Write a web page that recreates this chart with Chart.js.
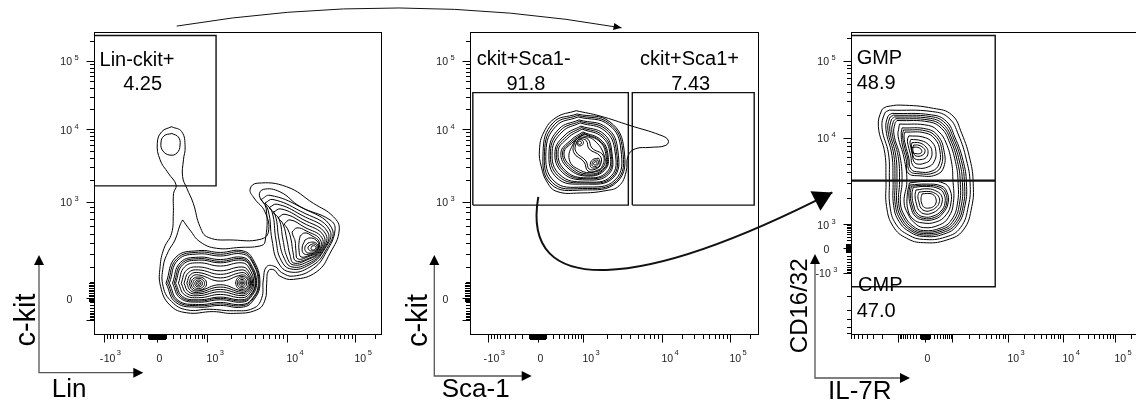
<!DOCTYPE html>
<html lang="en">
<head>
<meta charset="utf-8">
<title>Myeloid progenitor gating</title>
<script src="https://cdn.jsdelivr.net/npm/chart.js@4.4.1/dist/chart.umd.min.js"></script>
<style>
  html, body { margin: 0; padding: 0; background: #fff; }
  body { position: relative; width: 1136px; height: 406px; overflow: hidden; }
  canvas { position: absolute; left: 0; top: 0; }
</style>
</head>
<body>
<canvas id="lin" width="1150" height="406"></canvas>
<canvas id="sca" width="1150" height="406"></canvas>
<canvas id="cd" width="1150" height="406"></canvas>
<script>
// Every position below is a logicle display channel (0-1024 on both axes).
// Contours are stored as flat [x, y, x, y, ...] rings.

// ---------- Lin vs c-kit ----------
const linTickValsX = [-1000, 0, 1000, 10000, 100000];
const linTickChX = [36, 224, 402, 686, 928];
const linTickTextX = ['-10^3', '0', '10^3', '10^4', '10^5'];
const linTickValsY = [-1000, 0, 1000, 10000, 100000];
const linTickChY = [51, 125, 450, 696, 926];
const linTickTextY = ['', '0', '10^3', '10^4', '10^5'];
const linGate = [0, 504, 434, 504, 434, 1012, 0, 1012];
const linGateText = [['Lin-ckit+', 153, 910], ['4.25', 173, 828]];

const linOuter = [276,704, 312,687, 324,636, 318,592, 315,535, 330,496, 353,445, 377,366, 406,330, 495,321,
  590,323, 620,348, 608,416, 569,463, 555,493, 580,513, 685,501, 780,445, 851,400, 872,355, 839,276, 792,214,
  709,188, 661,199, 640,220, 620,217, 614,175, 608,118, 579,85, 495,73, 424,79, 330,75, 270,101, 237,163,
  235,231, 249,293, 276,344, 282,411, 283,479, 292,507, 264,547, 235,592, 225,648, 241,687];
const linBlob = [277,681, 300,669, 306,642, 295,615, 270,608, 245,622, 238,649, 249,673];
const linSecond = [315,389, 341,355, 377,315, 436,293, 519,296, 590,301, 608,315, 612,428, 588,470, 602,492,
  661,484, 733,434, 839,389, 857,355, 827,282, 780,225, 709,199, 667,211, 644,231, 614,231, 602,186, 596,124,
  566,90, 495,82, 412,87, 330,85, 276,113, 246,163, 246,231, 264,282, 288,321, 306,372];
const linLower = [
  [256,175, 291,263, 372,285, 449,279, 526,285, 564,258, 590,175, 564,114, 526,94, 449,100, 372,94, 291,110],
  [262,175, 295,258, 372,280, 449,273, 526,280, 562,253, 587,175, 562,118, 526,99, 449,105, 372,99, 295,114],
  [268,175, 299,254, 372,274, 449,267, 526,274, 561,249, 584,175, 561,121, 526,103, 449,110, 372,103, 299,117],
  [279,175, 307,245, 372,263, 449,255, 526,263, 557,241, 578,175, 557,127, 526,111, 449,119, 372,111, 307,124],
  [285,175, 311,241, 372,258, 449,249, 526,258, 555,237, 575,175, 555,130, 526,115, 449,124, 372,115, 311,127],
  [290,175, 315,237, 372,253, 449,244, 526,253, 554,234, 573,175, 554,133, 526,119, 449,128, 372,119, 315,130],
  [300,175, 322,230, 372,244, 449,233, 526,244, 551,227, 568,175, 551,138, 526,126, 449,137, 372,126, 322,136],
  [310,175, 329,219, 372,230, 449,217, 526,230, 549,216, 564,175, 549,144, 526,133, 449,146, 372,133, 329,141],
  [320,175, 336,211, 372,220, 449,205, 526,220, 546,209, 560,175, 546,148, 526,139, 449,154, 372,139, 336,146],
  [330,175, 343,204, 372,211, 449,193, 526,211, 545,202, 557,175, 545,152, 526,144, 449,162, 372,144, 343,150],
  [338,175, 348,197, 372,203, 449,182, 526,203, 543,196, 554,175, 543,156, 526,149, 449,170, 372,149, 348,154]
];
const linPeakA = [
  [344,174, 352,190, 372,196, 392,190, 400,174, 392,158, 372,152, 352,158],
  [351,174, 357,186, 372,191, 387,186, 393,174, 387,162, 372,157, 357,162],
  [358,174, 362,182, 372,186, 382,182, 386,174, 382,166, 372,162, 362,166],
  [364,174, 366,179, 372,181, 378,179, 380,174, 378,169, 372,167, 366,169],
  [368,174, 372,177, 376,174, 372,171]
];
const linPeakB = [
  [503,176, 510,192, 526,198, 542,192, 549,176, 542,160, 526,154, 510,160],
  [509,176, 514,188, 526,193, 538,188, 543,176, 538,164, 526,159, 514,164],
  [515,176, 518,184, 526,188, 534,184, 537,176, 534,168, 526,164, 518,168],
  [520,176, 522,181, 526,183, 530,181, 532,176, 530,171, 526,169, 522,171],
  [523,176, 526,179, 529,176, 526,173]
];
const linRight = [
  [594,458, 626,472, 733,433, 845,362, 821,281, 768,230, 697,213, 654,247, 633,321, 619,422],
  [608,446, 636,458, 733,419, 838,355, 814,281, 765,237, 701,223, 665,253, 647,321, 633,416],
  [622,430, 651,442, 736,406, 831,348, 811,281, 765,243, 704,230, 676,260, 658,321, 644,406],
  [636,414, 665,426, 740,392, 824,341, 807,281, 765,250, 708,237, 686,264, 672,321, 658,392],
  [654,396, 679,408, 743,379, 817,335, 804,281, 765,257, 711,243, 697,270, 686,321, 672,375],
  [676,375, 697,389, 747,365, 811,328, 800,281, 765,260, 718,250, 708,277, 701,321, 690,355],
  [704,348, 722,362, 754,352, 805,321, 797,281, 768,267, 725,257, 718,284, 715,318, 708,335],
  [733,335, 750,345, 775,335, 801,314, 793,281, 768,270, 736,264, 729,287, 729,314],
  [750,321, 768,328, 789,321, 799,304, 789,281, 768,274, 747,274, 740,294],
  [761,311, 779,314, 793,308, 797,294, 786,281, 768,277, 754,281, 750,297],
  [768,304, 782,308, 793,301, 789,287, 775,284, 765,287, 761,297],
  [775,301, 786,301, 789,294, 782,287, 772,291]
];

// ---------- Sca-1 vs c-kit ----------
const scaTickValsX = [-1000, 0, 1000, 10000, 100000];
const scaTickChX = [64, 241, 400, 680, 921];
const scaTickTextX = ['-10^3', '0', '10^3', '10^4', '10^5'];
const scaTickValsY = [-1000, 0, 1000, 10000, 100000];
const scaTickChY = [51, 125, 450, 696, 926];
const scaTickTextY = ['', '0', '10^3', '10^4', '10^5'];
const scaGateNeg = [10, 439, 561, 439, 561, 819, 10, 819];
const scaGatePos = [575, 439, 1007, 439, 1007, 819, 575, 819];
const scaGateText = [['ckit+Sca1-', 190, 913], ['91.8', 198, 828], ['ckit+Sca1+', 778, 913], ['7.43', 782, 828]];

const scaOuter = [376,758, 461,740, 567,708, 673,676, 702,659, 694,641, 638,634, 585,629, 560,605, 553,551,
  528,504, 482,488, 390,480, 308,485, 273,517, 253,568, 246,625, 262,686, 305,735];
const scaBody = [
  [379,747, 496,720, 546,625, 521,517, 397,490, 287,510, 259,619, 294,717],
  [381,742, 494,715, 541,625, 518,520, 398,495, 292,515, 264,619, 300,712],
  [383,737, 492,710, 535,625, 514,524, 400,500, 298,520, 269,619, 305,706],
  [386,727, 485,700, 524,622, 507,531, 404,510, 308,531, 280,619, 315,696],
  [388,722, 482,695, 519,620, 504,534, 406,514, 314,536, 285,619, 320,691],
  [390,717, 478,690, 514,619, 500,537, 408,517, 319,541, 291,619, 326,686],
  [393,706, 475,679, 503,615, 492,544, 411,524, 329,548, 301,619, 337,676],
  [395,701, 471,674, 500,613, 489,548, 413,528, 335,551, 306,619, 342,671],
  [397,696, 468,669, 496,612, 485,551, 415,531, 340,554, 312,619, 347,666],
  [400,686, 464,659, 489,608, 478,558, 418,537, 351,561, 322,615, 358,659],
  [402,682, 462,655, 486,606, 476,561, 420,540, 356,564, 328,615, 361,655],
  [404,679, 461,652, 482,605, 475,564, 422,544, 361,568, 333,615, 365,652],
  [396,675, 440,658, 476,606, 472,568, 436,550, 392,556, 352,592, 368,650],
  [388,670, 418,662, 432,632, 471,608, 470,573, 450,556, 418,554, 404,585, 368,616, 372,652],
  [390,665, 412,657, 422,629, 461,605, 463,577, 446,561, 422,561, 411,588, 375,620, 377,650]
];
const scaPeaks = [
  [386,662, 398,658, 402,650, 396,641, 384,640, 379,648, 381,657],
  [386,656, 393,654, 395,648, 388,644, 382,648],
  [455,598, 460,588, 458,572, 446,565, 430,566, 426,576, 434,592],
  [452,592, 455,584, 452,574, 443,569, 434,571, 433,580, 439,589],
  [448,586, 450,580, 446,575, 440,575, 438,580, 443,585]
];

// ---------- IL-7R vs CD16/32 ----------
const cdTickValsX = [-100, 0, 100, 1000, 10000, 100000];
const cdTickChX = [167, 262, 358, 556, 751, 935];
const cdTickTextX = ['', '0', '', '10^3', '10^4', '10^5'];
const cdTickValsY = [-1000, 0, 1000, 10000, 100000];
const cdTickChY = [210, 294, 375, 666, 926];
const cdTickTextY = ['-10^3', '0', '10^3', '10^4', '10^5'];
const cdGateGmp = [0, 523, 511, 523, 511, 1012, 0, 1012];
const cdGateCmp = [0, 163, 511, 163, 511, 520, 0, 520];
const cdGateText = [['GMP', 20, 916], ['48.9', 20, 830], ['CMP', 25, 149], ['47.0', 20, 62]];

const cdOuter = [
  [126,772, 174,777, 292,766, 357,744, 392,682, 422,592, 433,513, 428,434, 398,355, 339,321, 256,312, 197,327,
    150,366, 126,434, 124,524, 120,614, 97,704, 109,760],
  [136,760, 289,755, 347,733, 381,676, 409,592, 422,514, 416,436, 388,363, 335,331, 257,323, 204,338, 159,375,
    138,436, 136,524, 133,612, 110,700, 120,750],
  [145,749, 285,744, 338,722, 368,669, 397,590, 409,514, 404,438, 377,372, 329,341, 257,333, 209,348, 170,384,
    151,438, 149,522, 145,608, 124,694, 131,739],
  [150,743, 284,738, 334,716, 363,666, 391,589, 402,515, 398,439, 372,376, 327,347, 257,338, 212,353, 176,388,
    157,440, 156,521, 152,607, 131,691, 137,733],
  [154,737, 282,732, 329,710, 358,662, 384,588, 395,515, 391,439, 367,380, 324,352, 257,343, 214,358, 181,392,
    163,441, 163,520, 159,605, 138,688, 143,727],
  [159,731, 280,726, 325,704, 353,659, 377,587, 387,520, 384,441, 362,385, 322,357, 257,348, 217,363, 186,397,
    169,444, 172,520, 167,604, 145,684, 150,721],
  [163,725, 278,720, 321,698, 347,656, 370,586, 379,524, 377,443, 356,389, 319,362, 257,353, 220,368, 191,401,
    175,446, 181,520, 174,602, 152,679, 156,715],
  [172,713, 275,708, 312,686, 337,649, 356,585, 361,527, 363,448, 345,397, 313,372, 257,363, 225,379, 202,409,
    188,450, 198,520, 188,598, 167,671, 170,703]
];
const cdGmpRings = [
  [181,700, 269,696, 308,673, 329,625, 329,568, 301,541, 244,538, 202,548, 196,592, 182,642, 178,679],
  [186,693, 265,690, 303,668, 322,624, 320,573, 294,548, 242,545, 207,555, 201,595, 188,642, 183,674],
  [191,686, 262,683, 298,662, 315,622, 312,578, 287,554, 241,551, 212,561, 205,598, 193,642, 188,669],
  [205,673, 255,669, 287,652, 301,619, 294,585, 273,568, 237,564, 218,575, 212,605, 203,639, 200,659],
  [212,661, 248,657, 276,642, 287,619, 280,592, 262,581, 234,578, 222,588, 217,612, 211,639, 209,652],
  [216,650, 244,649, 266,635, 273,619, 266,600, 248,593, 227,595, 220,605, 216,625, 214,639],
  [222,642, 241,641, 259,630, 262,619, 252,607, 230,605, 222,615, 219,629],
  [216,634, 237,634, 250,625, 248,615, 230,613, 216,620]
];
const cdCmpRings = [
  [207,514, 262,519, 326,514, 351,490, 354,446, 337,406, 301,382, 252,379, 220,392, 202,422, 199,470],
  [209,507, 266,510, 319,504, 340,483, 344,446, 326,412, 298,392, 255,389, 227,402, 213,429, 205,473],
  [214,503, 267,506, 316,499, 335,480, 339,446, 323,416, 295,397, 257,394, 230,407, 218,432, 210,473],
  [220,499, 269,502, 312,494, 329,477, 333,446, 319,419, 291,402, 259,399, 234,412, 223,436, 216,473],
  [230,490, 273,494, 305,485, 321,470, 322,446, 310,426, 287,412, 262,409, 241,421, 232,443, 227,470],
  [241,483, 276,485, 299,478, 312,465, 312,446, 301,431, 283,421, 264,419, 248,429, 241,448, 237,468],
  [252,477, 280,478, 294,472, 301,460, 301,446, 292,434, 276,429, 260,431, 252,441, 248,460]
];

// Arrows linking each gate to the next plot: [panel, x channel, y channel]
const linkTop = { from: ['lin', 294, 1044], to: ['sca', 537, 1038], lift: 38 };
const linkBig = { from: ['sca', 242, 467], to: ['cd', -66, 482], c1: [-18, 103], c2: [-192, 98] };

const FONT = "'Liberation Sans', Arial, Helvetica, sans-serif";

const panelSpec = {
  lin: {
    x: { vals: linTickValsX, ch: linTickChX, text: linTickTextX },
    y: { vals: linTickValsY, ch: linTickChY, text: linTickTextY },
    text: linGateText, align: 'center',
    arrow: [-55, 37.7, 117.7, 104.3],
    xTitle: ['Lin', 12.7, 24, 26], yTitle: ['c-kit', -4, -52.7, 29]
  },
  sca: {
    x: { vals: scaTickValsX, ch: scaTickChX, text: scaTickTextX },
    y: { vals: scaTickValsY, ch: scaTickChY, text: scaTickTextY },
    text: scaGateText, align: 'center',
    arrow: [-35.7, 41, 121, 97.4],
    xTitle: ['Sca-1', 7.4, 20.7, 26], yTitle: ['c-kit', -7.3, -55.5, 29]
  },
  cd: {
    x: { vals: cdTickValsX, ch: cdTickChX, text: cdTickTextX },
    y: { vals: cdTickValsY, ch: cdTickChY, text: cdTickTextY },
    text: cdGateText, align: 'left',
    arrow: [-36, 43, 124, 95],
    xTitle: ['IL-7R', 13, 21, 26], yTitle: ['CD16/32', -8.3, -72.2, 24],
    links: true
  }
};

// major ticks at the decades, log minors inside decades, compressed minors near zero
function axisTicks(ax) {
  const v = ax.vals, c = ax.ch, n = v.length, out = [];
  const span = Math.asinh(1 / 0.3);
  for (let i = 0; i < n; i++) out.push({ c: c[i], len: 7.5 });
  for (let i = 0; i < n - 1; i++) {
    const a = v[i], b = v[i + 1], ca = c[i], cb = c[i + 1];
    if (a > 0 || b < 0) {
      for (let k = 2; k <= 9; k++) {
        const f = Math.log10(k);
        out.push({ c: a > 0 ? ca + (cb - ca) * f : cb - (cb - ca) * f, len: 4 });
      }
    } else {
      const c0 = a === 0 ? ca : cb, c1 = a === 0 ? cb : ca;
      for (let k = 1; k <= 9; k++) {
        out.push({ c: c0 + (c1 - c0) * Math.asinh(k / 10 / 0.3) / span, len: 4 });
        out.push({ c: c0 + (c1 - c0) * Math.asinh(k / 100 / 0.3) / span, len: 5 });
      }
    }
  }
  const decade = c[n - 1] - c[n - 2];
  for (let k = 2; k <= 9; k++) {
    const f = Math.log10(k) * decade;
    out.push({ c: c[n - 1] + f, len: 4 });
    if (v[0] < 0) out.push({ c: c[0] - f, len: 4 });
  }
  return out.filter(t => t.c >= 0 && t.c <= 1024);
}

const TICK_FONT = '10.5px ' + FONT, SUP_FONT = '7.5px ' + FONT;

function xLabel(ctx, s, px, bottom) {
  const [base, sup] = s.split('^');
  ctx.font = TICK_FONT;
  if (!sup) {
    ctx.textAlign = 'center';
    ctx.fillText(base, px + 2.5, bottom + 27);
    return;
  }
  const digits = base.replace('-', '');
  const x0 = px - 0.5;
  ctx.textAlign = 'left';
  ctx.fillText(digits, x0, bottom + 27);
  if (base[0] === '-') {
    ctx.textAlign = 'right';
    ctx.fillText('-', x0 - 0.5, bottom + 27);
    ctx.textAlign = 'left';
  }
  const w = ctx.measureText(digits).width;
  ctx.font = SUP_FONT;
  ctx.fillText(sup, x0 + w + 1.5, bottom + 19.5);
}

function yLabel(ctx, s, cx, py) {
  const [base, sup] = s.split('^');
  ctx.font = TICK_FONT;
  const wb = ctx.measureText(base).width;
  ctx.font = SUP_FONT;
  const ws = sup ? ctx.measureText(sup).width + 2.5 : 0;
  const x0 = cx - (wb + ws) / 2;
  ctx.textAlign = 'left';
  ctx.font = TICK_FONT;
  ctx.fillText(base, x0, py + 4.5);
  if (sup) {
    ctx.font = SUP_FONT;
    ctx.fillText(sup, x0 + wb + 2.5, py - 0.5);
  }
}

function arrowHead(ctx, tx, ty, dx, dy, len, half) {
  const m = Math.hypot(dx, dy), ux = dx / m, uy = dy / m;
  const bx = tx - ux * len, by = ty - uy * len;
  ctx.beginPath();
  ctx.moveTo(tx, ty);
  ctx.lineTo(bx - uy * half, by + ux * half);
  ctx.lineTo(bx + uy * half, by - ux * half);
  ctx.closePath();
  ctx.fill();
}

const charts = {};

function drawLinks(chart, ctx) {
  const at = (name, x, y) => {
    const c = name === chart.canvas.id ? chart : charts[name];
    return [c.scales.x.getPixelForValue(x), c.scales.y.getPixelForValue(y)];
  };
  ctx.fillStyle = '#000';
  // thin arc across the top
  const [ax, ay] = at(...linkTop.from), [bx, by] = at(...linkTop.to);
  const qx = (ax + bx) / 2, qy = (ay + by) / 2 - linkTop.lift;
  ctx.strokeStyle = '#111';
  ctx.lineWidth = 1;
  ctx.beginPath();
  ctx.moveTo(ax, ay);
  ctx.quadraticCurveTo(qx, qy, bx, by);
  ctx.stroke();
  arrowHead(ctx, bx, by, bx - qx, by - qy, 8, 3.5);
  // heavy swoop from the Sca1- gate into the last plot
  const [sx, sy] = at(...linkBig.from), [ex, ey] = at(...linkBig.to);
  const c1x = sx + linkBig.c1[0], c1y = sy + linkBig.c1[1];
  const c2x = ex + linkBig.c2[0], c2y = ey + linkBig.c2[1];
  ctx.lineWidth = 2;
  ctx.beginPath();
  ctx.moveTo(sx, sy);
  ctx.bezierCurveTo(c1x, c1y, c2x, c2y, ex, ey);
  ctx.stroke();
  arrowHead(ctx, ex, ey, ex - c2x, ey - c2y, 19, 11);
}

const flowAxes = {
  id: 'flowAxes',
  afterDatasetsDraw(chart) {
    const spec = panelSpec[chart.canvas.id];
    const ctx = chart.ctx, a = chart.chartArea;
    const sx = chart.scales.x, sy = chart.scales.y;
    ctx.save();
    ctx.strokeStyle = '#000';
    ctx.lineWidth = 1;
    ctx.strokeRect(a.left + 0.5, a.top + 0.5, a.right - a.left - 1, a.bottom - a.top - 1);

    ctx.beginPath();
    axisTicks(spec.x).forEach(t => {
      const px = Math.round(sx.getPixelForValue(t.c)) + 0.5;
      if (px < a.left || px > a.right) return;
      ctx.moveTo(px, a.bottom);
      ctx.lineTo(px, a.bottom + t.len);
    });
    axisTicks(spec.y).forEach(t => {
      const py = Math.round(sy.getPixelForValue(t.c)) + 0.5;
      if (py < a.top || py > a.bottom) return;
      ctx.moveTo(a.left, py);
      ctx.lineTo(a.left - t.len, py);
    });
    ctx.stroke();

    ctx.fillStyle = '#222';
    ctx.textBaseline = 'alphabetic';
    spec.x.text.forEach((s, i) => { if (s) xLabel(ctx, s, sx.getPixelForValue(spec.x.ch[i]), a.bottom); });
    spec.y.text.forEach((s, i) => { if (s) yLabel(ctx, s, a.left - 24.5, sy.getPixelForValue(spec.y.ch[i])); });

    ctx.fillStyle = '#000';
    ctx.font = '20px ' + FONT;
    ctx.textAlign = spec.align;
    spec.text.forEach(([s, x, y]) => ctx.fillText(s, sx.getPixelForValue(x), sy.getPixelForValue(y)));

    // parameter arrows and names
    const [ox0, oy0, up, right] = spec.arrow;
    const ox = a.left + ox0, oy = a.bottom + oy0;
    ctx.strokeStyle = '#555';
    ctx.lineWidth = 1.3;
    ctx.beginPath();
    ctx.moveTo(ox, oy - up + 8);
    ctx.lineTo(ox, oy);
    ctx.lineTo(ox + right - 8, oy);
    ctx.stroke();
    arrowHead(ctx, ox, oy - up, 0, -1, 10, 5);
    arrowHead(ctx, ox + right, oy, 1, 0, 10, 5);

    const [xt, xdx, xdy, xs] = spec.xTitle;
    ctx.font = xs + 'px ' + FONT;
    ctx.textAlign = 'left';
    ctx.fillText(xt, ox + xdx, oy + xdy);
    const [yt, ydx, ydy, ys] = spec.yTitle;
    ctx.save();
    ctx.translate(ox + ydx, oy + ydy);
    ctx.rotate(-Math.PI / 2);
    ctx.font = ys + 'px ' + FONT;
    ctx.textAlign = 'center';
    ctx.fillText(yt, 0, 0);
    ctx.restore();

    if (spec.links) drawLinks(chart, ctx);
    ctx.restore();
  }
};

function ring(flat) {
  const pts = [];
  for (let i = 0; i < flat.length; i += 2) pts.push({ x: flat[i], y: flat[i + 1] });
  pts.push({ x: flat[0], y: flat[1] });
  return pts;
}
function contours(rings) {
  return rings.map(r => ({
    data: ring(r), showLine: true, borderColor: '#000', borderWidth: 1,
    pointRadius: 0, tension: 0.45, fill: false
  }));
}
function gate(flat, width) {
  return { data: ring(flat), showLine: true, borderColor: '#111', borderWidth: width || 1.4,
    pointRadius: 0, tension: 0, fill: false };
}

function makePanel(id, datasets, pad) {
  return new Chart(document.getElementById(id), {
    type: 'scatter',
    data: { datasets },
    options: {
      responsive: false,
      animation: false,
      events: [],
      layout: { padding: pad },
      scales: {
        x: { type: 'linear', min: 0, max: 1024, display: false },
        y: { type: 'linear', min: 0, max: 1024, display: false }
      },
      plugins: { legend: { display: false }, tooltip: { enabled: false } }
    },
    plugins: [flowAxes]
  });
}

charts.lin = makePanel('lin', [
  gate(linGate),
  ...contours([linOuter, linBlob, linSecond]),
  ...contours(linLower), ...contours(linPeakA), ...contours(linPeakB), ...contours(linRight)
], { left: 94, top: 32, right: 768, bottom: 71 });

charts.sca = makePanel('sca', [
  gate(scaGateNeg), gate(scaGatePos),
  ...contours([scaOuter]), ...contours(scaBody), ...contours(scaPeaks)
], { left: 470, top: 32, right: 391, bottom: 71 });

charts.cd = makePanel('cd', [
  gate(cdGateGmp), gate(cdGateCmp),
  ...contours(cdOuter), ...contours(cdGmpRings), ...contours(cdCmpRings)
], { left: 851, top: 32, right: 10, bottom: 71 });
</script>
</body>
</html>
